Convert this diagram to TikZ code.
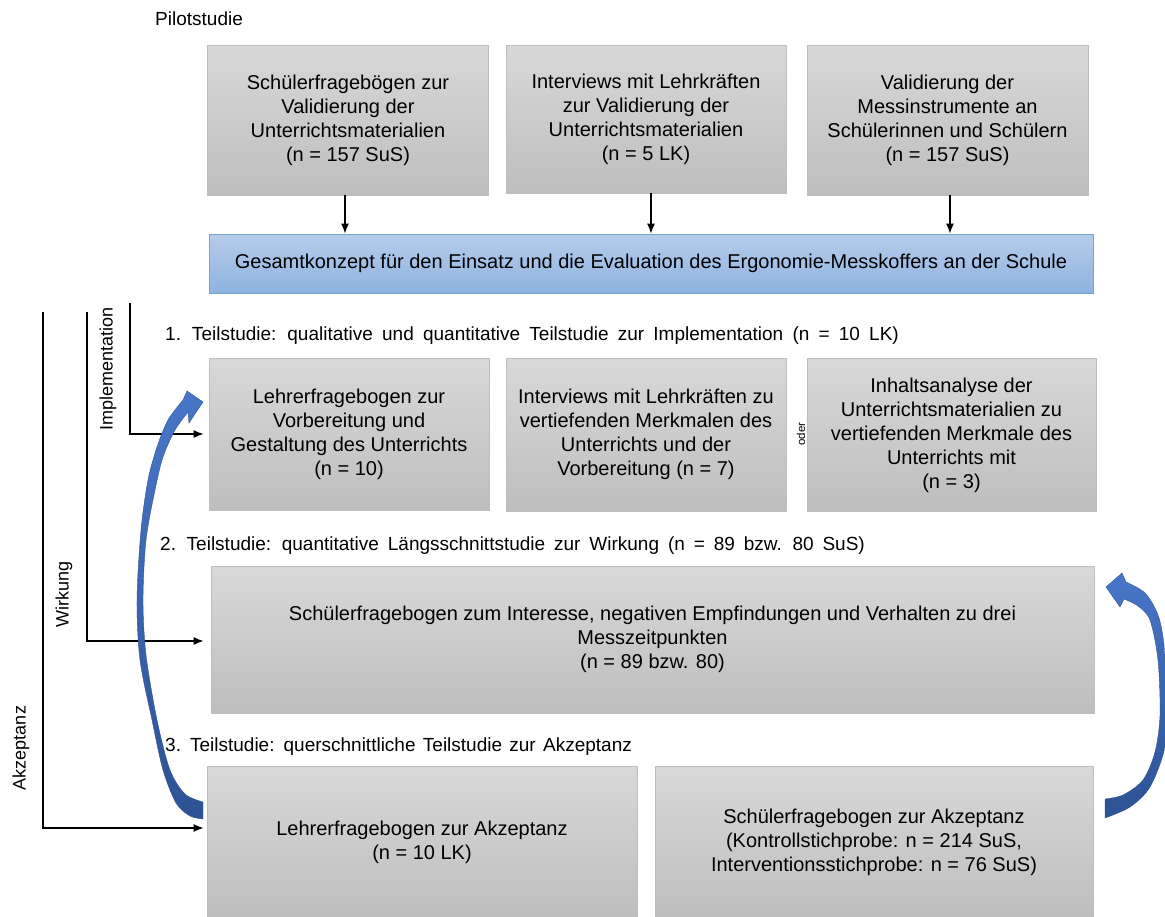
\documentclass[tikz,border=0pt]{standalone}
\usepackage{fontspec}
\setmainfont{Liberation Sans}
\usetikzlibrary{arrows.meta}
\definecolor{boxline}{RGB}{190,190,190}
\definecolor{boxtop}{RGB}{216,216,216}
\definecolor{boxbot}{RGB}{190,190,190}
\definecolor{bluetop}{RGB}{182,204,234}
\definecolor{bluebot}{RGB}{142,179,224}
\definecolor{blueline}{RGB}{120,160,210}
\definecolor{arrtop}{RGB}{72,118,200}
\definecolor{arrbot}{RGB}{45,82,148}
\definecolor{arrline}{RGB}{47,85,151}
\tikzset{
  graybox/.style={draw=boxline, line width=0.8pt, top color=boxtop, bottom color=boxbot,
    align=center, inner sep=0pt, font=\fontsize{20}{24}\selectfont},
  bluebox/.style={draw=blueline, line width=0.8pt, top color=bluetop, bottom color=bluebot,
    align=center, inner sep=0pt, font=\fontsize{20}{24}\selectfont},
  heading/.style={anchor=west, inner sep=0pt, font=\fontsize{19}{23}\selectfont},
  sidelab/.style={rotate=90, inner sep=0pt, font=\fontsize{18}{22}\selectfont},
  conn/.style={line width=1.3pt, -{Latex[length=10pt,width=8pt]}},
  bigarrow/.style={top color=arrtop, bottom color=arrbot, draw=arrline, line width=0.4pt}
}
\begin{document}
\begin{tikzpicture}[x=1pt,y=-1pt]
\useasboundingbox (0,0) rectangle (1165,916);
\fill[white] (0,0) rectangle (1165,916);

% headings
\node[heading] (hp) at (155,19) {Pilotstudie};
\node[heading] (h1) at (165,336) {\spaceskip=9.2pt 1. Teilstudie: qualitative und quantitative Teilstudie zur Implementation (n = 10 LK)};
\node[heading] (h2) at (160,546) {\spaceskip=8.9pt 2. Teilstudie: quantitative Längsschnittstudie zur Wirkung (n = 89 bzw. 80 SuS)};
\node[heading] (h3) at (165,747) {\spaceskip=7.3pt 3. Teilstudie: querschnittliche Teilstudie zur Akzeptanz};

% pilot boxes
\node[graybox, minimum width=281pt, minimum height=150pt] (b1) at (348,120)
  {Schülerfragebögen zur\\Validierung der\\Unterrichtsmaterialien\\(n = 157 SuS)};
\node[graybox, minimum width=280pt, minimum height=148pt] (b2) at (646,119)
  {Interviews mit Lehrkräften\\zur Validierung der\\Unterrichtsmaterialien\\(n = 5 LK)};
\node[graybox, minimum width=281pt, minimum height=150pt] (b3) at (947.5,120)
  {Validierung der\\Messinstrumente an\\Schülerinnen und Schülern\\(n = 157 SuS)};

\node[bluebox, minimum width=884pt, minimum height=59pt] (blue) at (651,263.5)
  {Gesamtkonzept für den Einsatz und die Evaluation des Ergonomie-Messkoffers an der Schule};

\draw[conn] ([xshift=-3pt]b1.south) -- ([xshift=-3pt]b1.south |- blue.north);
\draw[conn] ([xshift=5pt]b2.south) -- ([xshift=5pt]b2.south |- blue.north);
\draw[conn] ([xshift=2.5pt]b3.south) -- ([xshift=2.5pt]b3.south |- blue.north);

% Teilstudie 1
\node[graybox, minimum width=280pt, minimum height=152pt] (b4) at (349,434)
  {Lehrerfragebogen zur\\Vorbereitung und\\Gestaltung des Unterrichts\\(n = 10)};
\node[graybox, minimum width=280pt, minimum height=153pt] (b5) at (646,434.5)
  {Interviews mit Lehrkräften zu\\vertiefenden Merkmalen des\\Unterrichts und der\\Vorbereitung (n = 7)};
\node[graybox, minimum width=289pt, minimum height=153pt] (b6) at (951.5,435)
  {Inhaltsanalyse der\\Unterrichtsmaterialien zu\\vertiefenden Merkmale des\\Unterrichts mit\\(n = 3)};
\node[rotate=90, inner sep=0pt, font=\fontsize{11.5}{13}\selectfont] (oder) at (801,434) {oder};

% Teilstudie 2
\node[graybox, minimum width=883pt, minimum height=147pt] (b7) at (652.5,639.5)
  {Schülerfragebogen zum Interesse, negativen Empfindungen und Verhalten zu drei\\Messzeitpunkten\\(n = 89 bzw. 80)};

% Teilstudie 3
\node[graybox, minimum width=430pt, minimum height=152pt] (b8) at (422,842)
  {Lehrerfragebogen zur Akzeptanz\\(n = 10 LK)};
\node[graybox, minimum width=438pt, minimum height=152pt] (b9) at (874,842)
  {Schülerfragebogen zur Akzeptanz\\(Kontrollstichprobe: n = 214 SuS,\\Interventionsstichprobe: n = 76 SuS)};

% side brackets
\coordinate (iTop) at (130,303);
\coordinate (wTop) at (87,312);
\coordinate (aTop) at (43,312);
\draw[conn] (iTop) |- ([xshift=-5pt]b4.west);
\draw[conn] (wTop) |- ([xshift=-7pt,yshift=-1.5pt]b7.west);
\draw[conn] (aTop) |- ([xshift=-3pt,yshift=14pt]b8.west);
\node[sidelab] (limp) at (108,369) {Implementation};
\node[sidelab] (lwir) at (64,594) {Wirkung};
\node[sidelab] (lakz) at (21,748) {Akzeptanz};

% big curved arrows
\shade[bigarrow] (203,402) -- (187,391) -- (183,400)
  -- plot[smooth] coordinates {(183,400) (168,420) (157,447) (148,480) (141,530) (137,600) (140,660) (152,720) (163,770) (176,803) (190,816) (203,819)}
  -- (203,802)
  -- plot[smooth] coordinates {(203,802) (185,794) (170,770) (157,720) (146,655) (143,600) (146,540) (155,490) (163,457) (175,430) (188,412)}
  -- (189,423) -- cycle;
\shade[bigarrow] (1106,587) -- (1122,573) -- (1126,582)
  -- plot[smooth] coordinates {(1126,582) (1145,593) (1158,615) (1164,645) (1167,700) (1165,747) (1150,787) (1130,807) (1105,818)}
  -- (1105,799)
  -- plot[smooth] coordinates {(1105,799) (1123,795) (1143,780) (1155,752) (1160,715) (1158,660) (1150,620) (1138,606) (1124,599)}
  -- (1120,607) -- cycle;
\end{tikzpicture}
\end{document}
